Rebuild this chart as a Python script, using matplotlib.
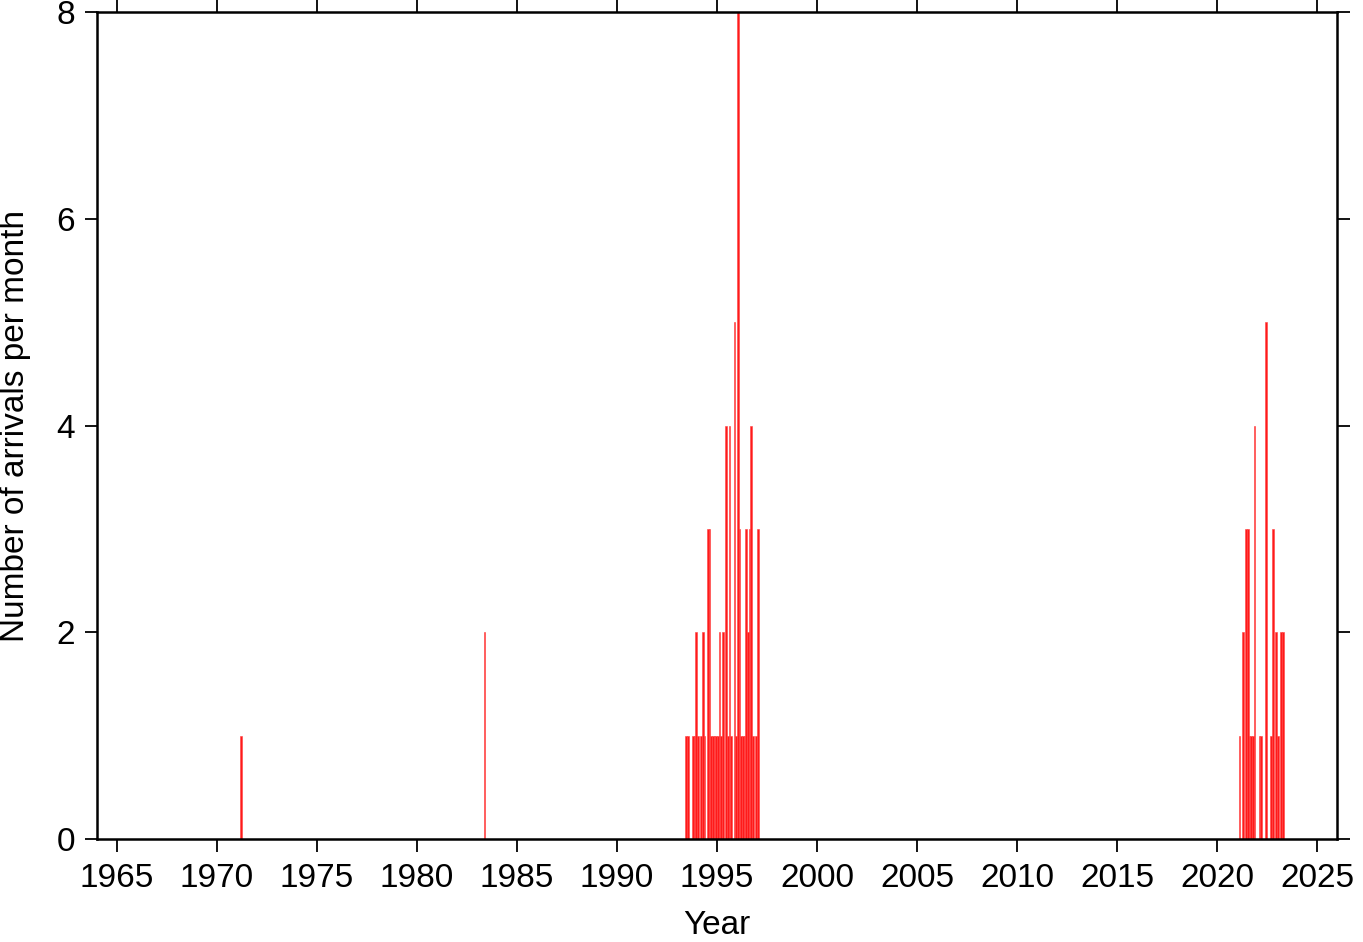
import numpy as np
import matplotlib
matplotlib.use("Agg")
import matplotlib.pyplot as plt

plt.rcParams['font.family'] = ['Liberation Sans', 'DejaVu Sans']

# monthly arrival counts: (year, month, count)
years = [1971, 1983,
         1993, 1993, 1993, 1993, 1993,
         1994, 1994, 1994, 1994, 1994, 1994, 1994, 1994, 1994, 1994,
         1995, 1995, 1995, 1995, 1995, 1995, 1995, 1995, 1995, 1995,
         1996, 1996, 1996, 1996, 1996, 1996, 1996, 1996, 1996, 1996, 1996,
         1997,
         2021, 2021, 2021, 2021, 2021, 2021, 2021, 2021,
         2022, 2022, 2022, 2022, 2022, 2022,
         2023, 2023, 2023]
months = [3, 5,
          6, 7, 10, 11, 12,
          1, 3, 4, 5, 7, 8, 9, 10, 11, 12,
          1, 2, 3, 4, 6, 7, 8, 9, 11, 12,
          1, 2, 3, 4, 5, 6, 7, 8, 9, 10, 12,
          1,
          2, 4, 6, 7, 8, 9, 10, 11,
          2, 3, 6, 9, 10, 12,
          1, 3, 4]
counts = [1, 2,
          1, 1, 1, 1, 2,
          1, 1, 2, 1, 3, 3, 1, 1, 1, 1,
          1, 2, 1, 2, 4, 1, 4, 1, 5, 1,
          8, 3, 1, 1, 1, 3, 2, 3, 4, 1, 1,
          3,
          1, 2, 3, 3, 1, 1, 1, 4,
          1, 1, 5, 1, 3, 2,
          1, 2, 2]

t = np.array(years) + (np.array(months) - 1) / 12.0

fig = plt.figure(figsize=(13.63, 9.42), dpi=100)
ax = fig.add_axes([97/1363, 1-839/942, (1337-97)/1363, (839-12)/942])

ax.bar(t, counts, width=1/12, align='edge', color='#ff1a1a',
       edgecolor='#ff4040', linewidth=0.4)

ax.set_xlim(1964, 2026)
ax.set_ylim(0, 8)
ax.set_xticks(np.arange(1965, 2026, 5))
ax.set_yticks([0, 2, 4, 6, 8])

for s in ax.spines.values():
    s.set_linewidth(1.8)
ax.tick_params(direction='out', length=9, width=1.3, labelsize=24,
               top=True, right=True, labeltop=False, labelright=False)
ax.tick_params(axis='x', pad=8)
ax.tick_params(axis='y', pad=7)

ax.set_xlabel('Year', fontsize=24, labelpad=12)
ax.set_ylabel('Number of arrivals per month', fontsize=24, labelpad=18)

fig.savefig('out.png', dpi=100)
